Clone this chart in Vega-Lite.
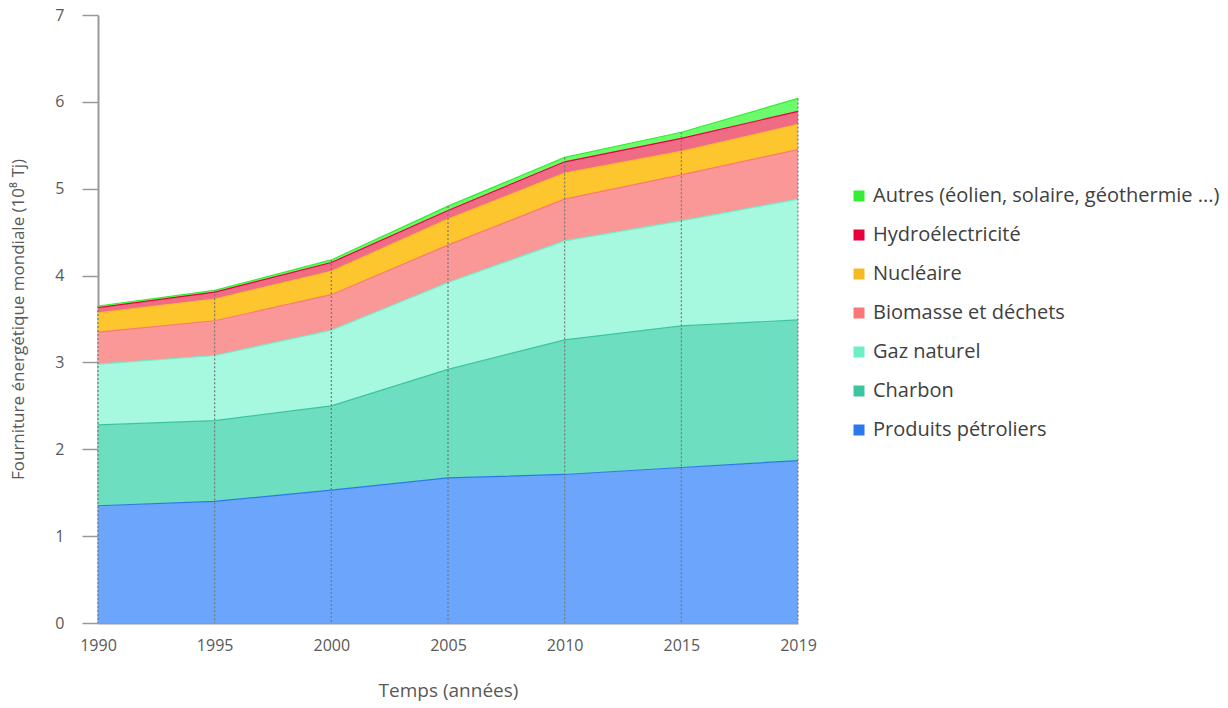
{
  "$schema": "https://vega.github.io/schema/vega-lite/v6.json",
  "width": 700,
  "height": 608,
  "autosize": "none",
  "padding": {"left": 98, "top": 15, "right": 430, "bottom": 85},
  "background": "white",
  "config": {
    "font": "Open Sans",
    "view": {"stroke": null},
    "legend": {
      "title": null,
      "orient": "none",
      "legendX": 751,
      "legendY": 171,
      "symbolType": "square",
      "symbolSize": 16,
      "symbolStrokeWidth": 7,
      "symbolOpacity": 1,
      "labelFontSize": 20,
      "labelLimit": 500,
      "labelColor": "#404040",
      "labelOffset": 4,
      "rowPadding": 7
    }
  },
  "data": {
    "values": [
      {"year": "1990", "source": "Produits pétroliers", "ord": 1, "value": 1.35},
      {"year": "1990", "source": "Charbon", "ord": 2, "value": 0.93},
      {"year": "1990", "source": "Gaz naturel", "ord": 3, "value": 0.70},
      {"year": "1990", "source": "Biomasse et déchets", "ord": 4, "value": 0.37},
      {"year": "1990", "source": "Nucléaire", "ord": 5, "value": 0.22},
      {"year": "1990", "source": "Hydroélectricité", "ord": 6, "value": 0.06},
      {"year": "1990", "source": "Autres (éolien, solaire, géothermie ...)", "ord": 7, "value": 0.02},
      {"year": "1995", "source": "Produits pétroliers", "ord": 1, "value": 1.40},
      {"year": "1995", "source": "Charbon", "ord": 2, "value": 0.93},
      {"year": "1995", "source": "Gaz naturel", "ord": 3, "value": 0.75},
      {"year": "1995", "source": "Biomasse et déchets", "ord": 4, "value": 0.40},
      {"year": "1995", "source": "Nucléaire", "ord": 5, "value": 0.25},
      {"year": "1995", "source": "Hydroélectricité", "ord": 6, "value": 0.08},
      {"year": "1995", "source": "Autres (éolien, solaire, géothermie ...)", "ord": 7, "value": 0.02},
      {"year": "2000", "source": "Produits pétroliers", "ord": 1, "value": 1.53},
      {"year": "2000", "source": "Charbon", "ord": 2, "value": 0.97},
      {"year": "2000", "source": "Gaz naturel", "ord": 3, "value": 0.87},
      {"year": "2000", "source": "Biomasse et déchets", "ord": 4, "value": 0.41},
      {"year": "2000", "source": "Nucléaire", "ord": 5, "value": 0.27},
      {"year": "2000", "source": "Hydroélectricité", "ord": 6, "value": 0.10},
      {"year": "2000", "source": "Autres (éolien, solaire, géothermie ...)", "ord": 7, "value": 0.03},
      {"year": "2005", "source": "Produits pétroliers", "ord": 1, "value": 1.67},
      {"year": "2005", "source": "Charbon", "ord": 2, "value": 1.25},
      {"year": "2005", "source": "Gaz naturel", "ord": 3, "value": 1.00},
      {"year": "2005", "source": "Biomasse et déchets", "ord": 4, "value": 0.43},
      {"year": "2005", "source": "Nucléaire", "ord": 5, "value": 0.30},
      {"year": "2005", "source": "Hydroélectricité", "ord": 6, "value": 0.10},
      {"year": "2005", "source": "Autres (éolien, solaire, géothermie ...)", "ord": 7, "value": 0.05},
      {"year": "2010", "source": "Produits pétroliers", "ord": 1, "value": 1.71},
      {"year": "2010", "source": "Charbon", "ord": 2, "value": 1.55},
      {"year": "2010", "source": "Gaz naturel", "ord": 3, "value": 1.14},
      {"year": "2010", "source": "Biomasse et déchets", "ord": 4, "value": 0.48},
      {"year": "2010", "source": "Nucléaire", "ord": 5, "value": 0.30},
      {"year": "2010", "source": "Hydroélectricité", "ord": 6, "value": 0.13},
      {"year": "2010", "source": "Autres (éolien, solaire, géothermie ...)", "ord": 7, "value": 0.05},
      {"year": "2015", "source": "Produits pétroliers", "ord": 1, "value": 1.79},
      {"year": "2015", "source": "Charbon", "ord": 2, "value": 1.63},
      {"year": "2015", "source": "Gaz naturel", "ord": 3, "value": 1.21},
      {"year": "2015", "source": "Biomasse et déchets", "ord": 4, "value": 0.53},
      {"year": "2015", "source": "Nucléaire", "ord": 5, "value": 0.27},
      {"year": "2015", "source": "Hydroélectricité", "ord": 6, "value": 0.15},
      {"year": "2015", "source": "Autres (éolien, solaire, géothermie ...)", "ord": 7, "value": 0.07},
      {"year": "2019", "source": "Produits pétroliers", "ord": 1, "value": 1.87},
      {"year": "2019", "source": "Charbon", "ord": 2, "value": 1.62},
      {"year": "2019", "source": "Gaz naturel", "ord": 3, "value": 1.39},
      {"year": "2019", "source": "Biomasse et déchets", "ord": 4, "value": 0.57},
      {"year": "2019", "source": "Nucléaire", "ord": 5, "value": 0.29},
      {"year": "2019", "source": "Hydroélectricité", "ord": 6, "value": 0.15},
      {"year": "2019", "source": "Autres (éolien, solaire, géothermie ...)", "ord": 7, "value": 0.15}
    ]
  },
  "transform": [
    {"stack": "value", "groupby": ["year"], "sort": [{"field": "ord", "order": "ascending"}], "as": ["y0", "y1"]}
  ],
  "encoding": {
    "x": {
      "field": "year",
      "type": "ordinal",
      "scale": {"type": "point", "padding": 0},
      "axis": {
        "title": "Temps (années)",
        "labelAngle": 0,
        "labelFontSize": 16,
        "labelColor": "#595959",
        "labelPadding": 14,
        "ticks": false,
        "domainColor": "#999999",
        "domainWidth": 2,
        "titleFontSize": 19,
        "titleFontWeight": "normal",
        "titleColor": "#595959",
        "titlePadding": 28
      }
    }
  },
  "layer": [
    {
      "mark": {"type": "area"},
      "encoding": {
        "y": {
          "field": "y1",
          "type": "quantitative",
          "scale": {"domain": [0, 7], "nice": false},
          "axis": {
            "title": "Fourniture énergétique mondiale (10⁸ Tj)",
            "values": [0, 1, 2, 3, 4, 5, 6, 7],
            "format": "d",
            "grid": false,
            "tickSize": 16,
            "tickColor": "#999999",
            "tickWidth": 1.5,
            "domainColor": "#999999",
            "domainWidth": 2,
            "labelFontSize": 16,
            "labelColor": "#595959",
            "labelPadding": 18,
            "titleFontSize": 17,
            "titleFontWeight": "normal",
            "titleColor": "#595959",
            "titlePadding": 27
          }
        },
        "y2": {"field": "y0"},
        "fill": {
          "field": "source",
          "type": "nominal",
          "scale": {
            "domain": [
              "Autres (éolien, solaire, géothermie ...)",
              "Hydroélectricité",
              "Nucléaire",
              "Biomasse et déchets",
              "Gaz naturel",
              "Charbon",
              "Produits pétroliers"
            ],
            "range": ["#6cfb6c", "#f06b84", "#fdc62e", "#fa9898", "#a6f8de", "#6ddfc0", "#6ca6fc"]
          }
        }
      }
    },
    {
      "mark": {"type": "line", "strokeWidth": 1.2},
      "encoding": {
        "y": {"field": "y1", "type": "quantitative"},
        "stroke": {
          "field": "source",
          "type": "nominal",
          "scale": {
            "domain": [
              "Autres (éolien, solaire, géothermie ...)",
              "Hydroélectricité",
              "Nucléaire",
              "Biomasse et déchets",
              "Gaz naturel",
              "Charbon",
              "Produits pétroliers"
            ],
            "range": ["#33ee33", "#e8003c", "#f6bb24", "#fb7777", "#6ceec6", "#3cc4a0", "#2a78ee"]
          }
        }
      }
    },
    {
      "transform": [
        {"filter": "datum.ord == 7"}
      ],
      "mark": {"type": "rule", "color": "#777777", "strokeDash": [2, 2], "strokeWidth": 1.2},
      "encoding": {
        "y": {"field": "y1", "type": "quantitative"},
        "y2": {"datum": 0}
      }
    }
  ]
}
